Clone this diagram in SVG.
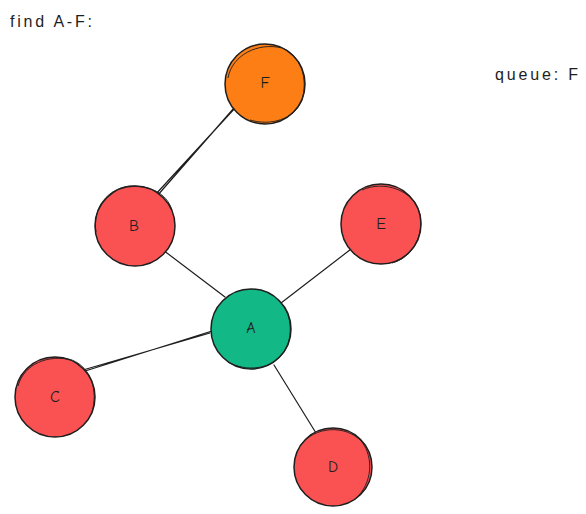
<svg xmlns="http://www.w3.org/2000/svg" width="586" height="514" viewBox="0 0 586 514">
  <style>
    .node { stroke: #1e1e1e; stroke-width: 1.5; }
    .sketch { fill: none; stroke: #1e1e1e; stroke-width: 0.9; }
    .red { fill: #fa5252; }
    .green { fill: #12b886; }
    .orange { fill: #fd7e14; }
    .edge { stroke: #1e1e1e; stroke-width: 1.2; fill: none; stroke-linecap: round; }
    .label { font-family: "Comic Neue", "Liberation Sans", sans-serif; font-size: 16px; fill: #1e1e1e; text-anchor: middle; dominant-baseline: central; }
    .note { font-family: "Liberation Sans", sans-serif; font-size: 16px; fill: #1e1e1e; }
  </style>
  <rect width="586" height="514" fill="#ffffff"/>

  <!-- connectors -->
  <g id="edges">
    <path class="edge" d="M236 107 L155 195 M234 108 L157 196"/>
    <path class="edge" d="M163 250 L225 297"/>
    <path class="edge" d="M355 246 L281 303"/>
    <path class="edge" d="M212 331 L82 372 M210 333 L83 370"/>
    <path class="edge" d="M274 365 L316 433"/>
  </g>

  <g id="node-F">
    <circle class="node orange" cx="265" cy="84" r="40"/>
    <path class="sketch" d="M228 78 C232 55 258 42 282 48 C302 56 308 80 302 100 C294 120 270 126 250 120"/>
    <text class="label" x="265" y="83">F</text>
  </g>
  <g id="node-B">
    <circle class="node red" cx="135" cy="226" r="40"/>
    <path class="sketch" d="M96 232 C92 208 108 188 130 186 C150 186 166 192 172 210"/>
    <text class="label" x="134" y="226">B</text>
  </g>
  <g id="node-E">
    <circle class="node red" cx="381" cy="224" r="40"/>
    <path class="sketch" d="M362 190 C384 180 414 190 420 214 C424 236 412 258 392 263"/>
    <text class="label" x="381" y="224">E</text>
  </g>
  <g id="node-A">
    <circle class="node green" cx="251" cy="329" r="40"/>
    <path class="sketch" d="M228 362 C246 372 272 370 284 352 C294 336 292 312 278 300"/>
    <text class="label" x="251" y="328">A</text>
  </g>
  <g id="node-C">
    <circle class="node red" cx="55" cy="397" r="40"/>
    <path class="sketch" d="M18 386 C24 364 48 354 72 360 C92 368 98 392 92 412"/>
    <text class="label" x="55" y="397">C</text>
  </g>
  <g id="node-D">
    <circle class="node red" cx="333" cy="467" r="39"/>
    <path class="sketch" d="M300 446 C314 426 346 424 362 442 C374 458 372 484 356 498"/>
    <text class="label" x="333" y="467">D</text>
  </g>

  <g id="notes">
    <text class="note" x="10" y="27" textLength="82" lengthAdjust="spacing">find A-F:</text>
    <text class="note" x="495" y="80" textLength="83" lengthAdjust="spacing">queue: F</text>
  </g>
</svg>
